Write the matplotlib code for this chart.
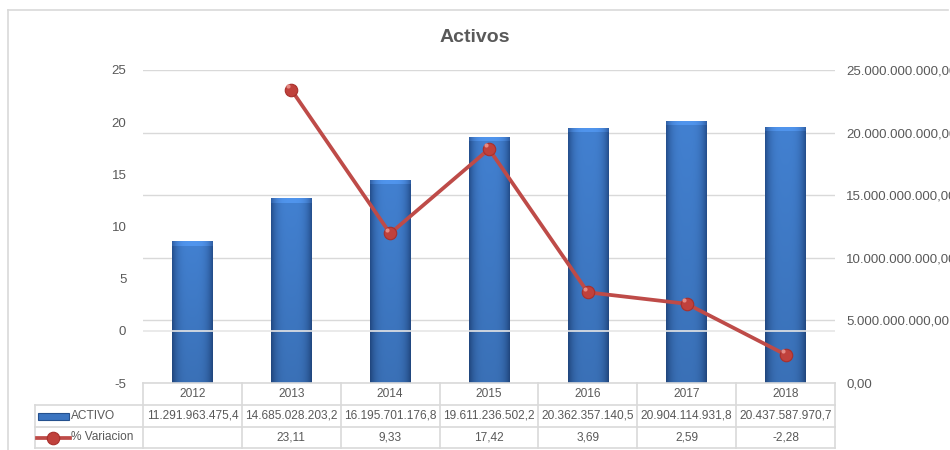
import numpy as np
import matplotlib
matplotlib.use("Agg")
import matplotlib.pyplot as plt
import matplotlib.transforms as mtransforms
from matplotlib.lines import Line2D
from matplotlib.patches import Rectangle

plt.rcParams['font.family'] = ['Liberation Sans', 'DejaVu Sans']
plt.rcParams['axes.unicode_minus'] = False

years = ['2012', '2013', '2014', '2015', '2016', '2017', '2018']
activo = [11291963475.4, 14685028203.2, 16195701176.8, 19611236502.2,
          20362357140.5, 20904114931.8, 20437587970.7]
variacion = [np.nan, 23.11, 9.33, 17.42, 3.69, 2.59, -2.28]

GRAY_TXT = '#595959'
GRID = '#d9d9d9'
RED = '#be4b48'


def es_num(v, dec):
    s = f"{v:,.{dec}f}"
    return s.replace(",", "X").replace(".", ",").replace("X", ".")


W, H = 950, 450
fig = plt.figure(figsize=(9.5, 4.5), dpi=100)


def fy(y):
    return 1 - y / H


def fx(x):
    return x / W


x0, x1, ytop, ybot = 143, 835, 70, 383
axL = fig.add_axes([fx(x0), fy(ybot), fx(x1 - x0), fy(ytop) - fy(ybot)])
axR = axL.twinx()
axL.set_zorder(axR.get_zorder() + 1)
axL.patch.set_visible(False)

xs = np.arange(len(years))

# bars with a horizontal shading like a bevelled column
bar_w = 0.41
t = np.linspace(0, 1, 80)
prof = 1 - np.abs(2 * t - 1) ** 3.5
light = np.array([0x42, 0x80, 0xd0]) / 255
dark = np.array([0x24, 0x4e, 0x8c]) / 255
row = dark + (light - dark) * prof[:, None]
vert = np.linspace(1.0, 0.88, 60)
body = np.clip(row[None, :, :] * vert[:, None, None], 0, 1)
top_row = np.clip(row * 1.1 + 0.03, 0, 1)
bevel = 25e9 * 4 / (ybot - ytop)
for x, v in zip(xs, activo):
    axR.imshow(body, extent=(x - bar_w / 2, x + bar_w / 2, 0, v - bevel),
               aspect='auto', origin='upper', zorder=2, interpolation='bilinear')
    axR.imshow(top_row[None, :, :], extent=(x - bar_w / 2, x + bar_w / 2, v - bevel, v),
               aspect='auto', origin='upper', zorder=2, interpolation='bilinear')

axR.set_ylim(0, 25e9)
axR.set_yticks(np.arange(0, 25e9 + 1, 5e9))
axR.set_yticklabels([es_num(v, 2) for v in np.arange(0, 25e9 + 1, 5e9)])
axR.grid(axis='y', color=GRID, lw=1, zorder=0)
axR.set_axisbelow(True)

# percentage line on the left axis
axL.plot(xs, variacion, color=RED, lw=2.7, marker='o', ms=9,
         mfc='#c0413c', mec='#a8302c', mew=0.8, zorder=5)
axL.plot(xs - 0.03, np.array(variacion) + 0.35, ls='none', marker='o', ms=3,
         mfc='#e58a84', mec='none', zorder=6)
axL.axhline(0, color='#e6e6e6', lw=1.2, zorder=1)
axL.set_ylim(-5, 25)
axL.set_yticks(np.arange(-5, 26, 5))
axL.set_xlim(-0.5, len(years) - 0.5)
axR.set_xlim(-0.5, len(years) - 0.5)
axL.set_xticks([])

for a in (axL, axR):
    for s in a.spines.values():
        s.set_visible(False)
    a.tick_params(axis='y', length=0, labelsize=9.5, labelcolor=GRAY_TXT)
axL.tick_params(axis='y', pad=12)
axR.tick_params(axis='y', pad=8)

fig.text(0.5, fy(38), 'Activos', ha='center', va='center', fontsize=14,
         fontweight='bold', color=GRAY_TXT)

# data table under the plot
trans = mtransforms.blended_transform_factory(axL.transData, fig.transFigure)
rows = [383, 405, 427, 448]
lab_x = 35
line_kw = dict(color=GRID, lw=1.2)
fig.add_artist(Line2D([-0.5, len(years) - 0.5], [fy(rows[0])] * 2, transform=trans, **line_kw))
for r in rows[1:]:
    fig.add_artist(Line2D([fx(lab_x), fx(x1)], [fy(r)] * 2, transform=fig.transFigure, **line_kw))
fig.add_artist(Line2D([fx(lab_x)] * 2, [fy(rows[1]), fy(rows[3])], transform=fig.transFigure, **line_kw))
for i in range(len(years) + 1):
    fig.add_artist(Line2D([i - 0.5] * 2, [fy(rows[0]), fy(rows[3])], transform=trans, **line_kw))

tfs = 8.6
for i, yr in enumerate(years):
    yc = [(rows[k] + rows[k + 1]) / 2 for k in range(3)]
    fig.text(i, fy(yc[0]), yr, transform=trans, ha='center', va='center', fontsize=tfs, color=GRAY_TXT)
    fig.text(i, fy(yc[1]), es_num(activo[i], 1), transform=trans, ha='center', va='center',
             fontsize=tfs, color=GRAY_TXT)
    if not np.isnan(variacion[i]):
        fig.text(i, fy(yc[2]), es_num(variacion[i], 2), transform=trans, ha='center', va='center',
                 fontsize=tfs, color=GRAY_TXT)

# legend keys inside the table
ya, yb = (rows[1] + rows[2]) / 2, (rows[2] + rows[3]) / 2
fig.add_artist(Rectangle((fx(38), fy(ya + 3.5)), fx(31), fy(ya - 3.5) - fy(ya + 3.5),
                         transform=fig.transFigure, facecolor='#3b74c0', edgecolor='#24508e', lw=0.8))
fig.add_artist(Line2D([fx(37), fx(70)], [fy(yb)] * 2, transform=fig.transFigure, color=RED, lw=2.7))
fig.add_artist(Line2D([fx(53)], [fy(yb)], transform=fig.transFigure, marker='o', ms=9,
                      mfc='#c0413c', mec='#a8302c', mew=0.8, ls='none'))
fig.text(fx(71), fy(ya), 'ACTIVO', ha='left', va='center', fontsize=tfs, color=GRAY_TXT)
fig.text(fx(71), fy(yb), '% Variacion', ha='left', va='center', fontsize=tfs, color=GRAY_TXT)

# chart frame
fig.add_artist(Line2D([fx(8), fx(948)], [fy(10)] * 2, transform=fig.transFigure, color='#d9d9d9', lw=1.2))
fig.add_artist(Line2D([fx(8)] * 2, [fy(10), 0], transform=fig.transFigure, color='#d9d9d9', lw=1.2))

fig.savefig('out.png', dpi=100)
